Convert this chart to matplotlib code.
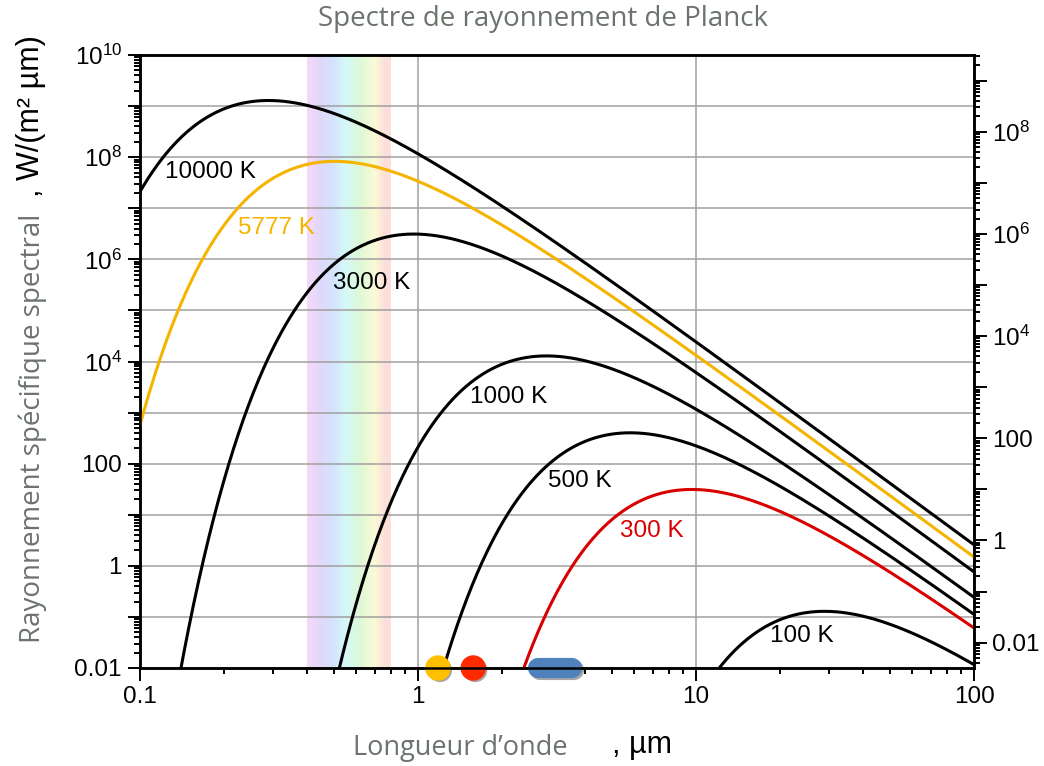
import numpy as np
import matplotlib
matplotlib.use("Agg")
import matplotlib.pyplot as plt
from matplotlib.ticker import FixedLocator, FuncFormatter, NullFormatter, LogLocator
from matplotlib.colors import LinearSegmentedColormap
import matplotlib.patheffects as pe

plt.rcParams['font.family'] = ['Liberation Sans', 'DejaVu Sans']
plt.rcParams['mathtext.fontset'] = 'custom'
plt.rcParams['mathtext.rm'] = 'Liberation Sans'

# courbes de Planck : températures, couleurs, étiquettes
temperatures = [10000, 5777, 3000, 1000, 500, 300, 100]
curve_colors = ['black', '#f5b400', 'black', 'black', 'black', '#d80000', 'black']
label_text = ['10000 K', '5777 K', '3000 K', '1000 K', '500 K', '300 K', '100 K']
label_x = [0.123, 0.225, 0.494, 1.54, 2.94, 5.33, 18.5]
label_y = [5.1e7, 4.1e6, 3.5e5, 2.0e3, 46, 4.8, 0.042]

# bande visible (couleurs pâles)
spectrum_um = [0.40, 0.444, 0.494, 0.547, 0.618, 0.70, 0.76, 0.80]
spectrum_colors = ['#f6d8f6', '#e0d8fa', '#d4e2fc', '#d4f8f8', '#ddf8d6',
                   '#fafad6', '#fcdeda', '#fcdeda']

# repères en bas de l'axe
dots_um = [1.18, 1.58]
dots_colors = ['#ffc000', '#ff2a00']
band_um = [2.70, 3.58]
band_color = '#4f81bd'

grey = '#6b736c'

C1 = 3.7418e-16   # 2 pi h c^2, W m^2
C2 = 1.4388e-2    # h c / k, m K


def exitance(lam_um, T):
    lam_m = lam_um * 1e-6
    with np.errstate(over='ignore'):
        return C1 / lam_m**5 / np.expm1(C2 / (lam_m * T)) * 1e-6


lam = np.logspace(-1, 2, 1000)

fig = plt.figure(figsize=(10.44, 7.66), dpi=100)
ax = fig.add_axes([140/1044, 1-668/766, (974-140)/1044, (668-55)/766])
ax.set_xscale('log')
ax.set_yscale('log')
ax.set_xlim(0.1, 100)
ax.set_ylim(1e-2, 1e10)

# bande visible
pos = (np.log10(spectrum_um) - np.log10(0.4)) / (np.log10(0.8) - np.log10(0.4))
cmap = LinearSegmentedColormap.from_list('vis', list(zip(pos, spectrum_colors)))
xe = np.logspace(np.log10(0.4), np.log10(0.8), 120)
cval = (np.log10(xe[:-1]) + np.log10(xe[1:])) / 2
cval = (cval - np.log10(0.4)) / (np.log10(0.8) - np.log10(0.4))
ax.pcolormesh(xe, [1e-2, 1e10], cval[np.newaxis, :], cmap=cmap, vmin=0, vmax=1,
              shading='flat', zorder=0.2, rasterized=True)

ax.set_axisbelow(True)
ax.grid(True, which='major', color='#a0a0a0', lw=1.1)

for T, c in zip(temperatures, curve_colors):
    ax.plot(lam, exitance(lam, T), color=c, lw=2.2, zorder=3)

for t, x, y, c in zip(label_text, label_x, label_y, curve_colors):
    ax.text(x, y, t, color=c, fontsize=17.5, ha='left', va='center', zorder=4)

# repères
for x, c in zip(dots_um, dots_colors):
    ax.scatter([x], [1e-2], s=300, color=c, clip_on=False, zorder=6,
               path_effects=[pe.SimplePatchShadow(offset=(1.5, -1.5), alpha=0.35,
                                                  shadow_rgbFace='black'),
                             pe.Normal()])
ax.plot(band_um, [1e-2, 1e-2], color=band_color, lw=14.5, solid_capstyle='round',
        clip_on=False, zorder=6,
        path_effects=[pe.SimpleLineShadow(offset=(1.5, -1.5), alpha=0.35), pe.Normal()])


def fmt_power(v, pos):
    e = int(round(np.log10(v)))
    if e % 2:
        return ''
    if e == -2:
        return '0.01'
    if e == 0:
        return '1'
    if e == 2:
        return '100'
    return r'$\mathregular{10^{%d}}$' % e


def fmt_x(v, pos):
    return {0.1: '0.1', 1: '1', 10: '10', 100: '100'}.get(round(v, 3), '')


ax.xaxis.set_major_locator(FixedLocator([0.1, 1, 10, 100]))
ax.xaxis.set_major_formatter(FuncFormatter(fmt_x))
ax.xaxis.set_minor_locator(LogLocator(base=10, subs=np.arange(2, 10), numticks=30))
ax.xaxis.set_minor_formatter(NullFormatter())
ax.yaxis.set_major_locator(FixedLocator([10.0**e for e in range(-2, 11)]))
ax.yaxis.set_major_formatter(FuncFormatter(fmt_power))
ax.yaxis.set_minor_locator(LogLocator(base=10, subs=np.arange(2, 10), numticks=30))
ax.yaxis.set_minor_formatter(NullFormatter())

ax.tick_params(which='both', direction='out', top=False, right=False, width=1.4,
               labelsize=17.5, pad=4)
ax.tick_params(which='major', length=9)
ax.tick_params(which='minor', length=4.5)
for s in ax.spines.values():
    s.set_linewidth(1.8)

# axe de droite : luminance (divisé par pi)
ax2 = ax.twinx()
ax2.set_yscale('log')
ax2.set_ylim(1e-2 / np.pi, 1e10 / np.pi)
ax2.yaxis.set_major_locator(FixedLocator([10.0**e for e in range(-3, 10)]))
ax2.yaxis.set_major_formatter(FuncFormatter(fmt_power))
ax2.yaxis.set_minor_locator(LogLocator(base=10, subs=np.arange(2, 10), numticks=30))
ax2.yaxis.set_minor_formatter(NullFormatter())
ax2.tick_params(which='both', direction='out', width=1.4, labelsize=17.5, pad=4)
ax2.tick_params(which='major', length=9)
ax2.tick_params(which='minor', length=4.5)
for s in ax2.spines.values():
    s.set_linewidth(1.8)

# textes
fig.text(543/1044, 1-19/766, 'Spectre de rayonnement de Planck', color=grey,
         fontfamily='Open Sans', fontsize=20, ha='center', va='center')
fig.text(33/1044, 1-428/766, 'Rayonnement spécifique spectral', color=grey,
         fontfamily='Open Sans', fontsize=20, rotation=90, ha='center', va='center')
fig.text(31/1044, 1-116/766, ', W/(m² µm)', color='black', fontsize=22,
         rotation=90, ha='center', va='center')
fig.text(460/1044, 1-748/766, 'Longueur d’onde', color=grey,
         fontfamily='Open Sans', fontsize=19.5, ha='center', va='center')
fig.text(612/1044, 1-745/766, ', µm', color='black', fontsize=22,
         ha='left', va='center')

fig.savefig('out.png', dpi=100)
